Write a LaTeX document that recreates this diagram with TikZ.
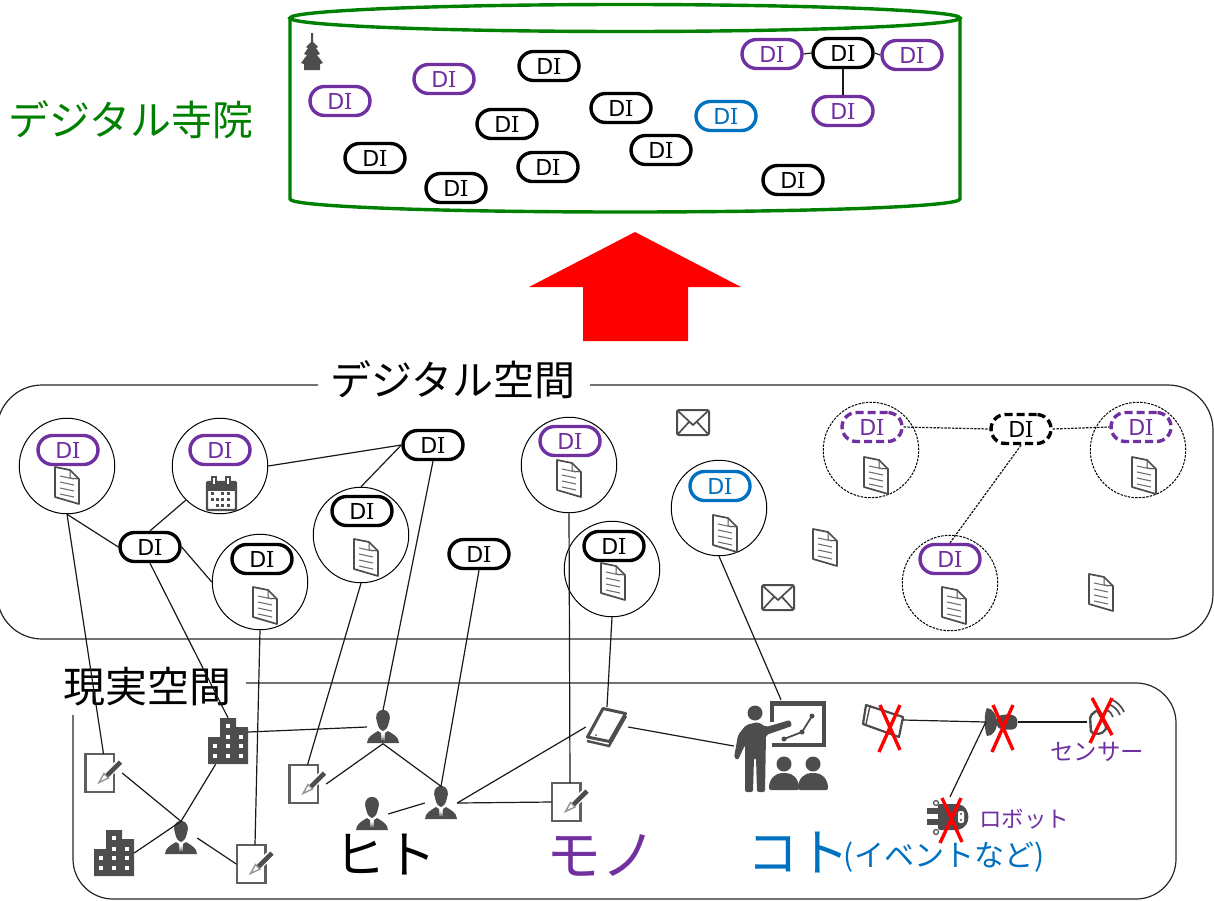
\documentclass[tikz,border=0pt]{standalone}
\usepackage{fontspec}
\setmainfont{Noto Sans CJK JP}
\newfontfamily\dsans{DejaVu Sans}
\newfontfamily\dserif{DejaVu Serif}
\usetikzlibrary{calc}
\definecolor{dipurple}{HTML}{7030A0}
\definecolor{diblue}{HTML}{0070C0}
\definecolor{digreen}{HTML}{008000}
\definecolor{icongrey}{HTML}{4D4D4D}
\newcommand{\fs}[1]{\fontsize{#1}{#1}\selectfont}
\newcommand{\ditext}{{\fs{22}\dsans D\kern-0.5pt\dserif I}}
\tikzset{
  x=1pt,y=-1pt,
  dipill/.style={draw=black,fill=white,line width=3.4pt,rounded corners=14.5pt,minimum width=60pt,minimum height=29pt,inner sep=0pt,text=black},
  dipurp/.style={dipill,draw=dipurple,text=dipurple},
  diblu/.style={dipill,draw=diblue,text=diblue},
  didash/.style={dash pattern=on 8pt off 4pt},
  ring/.style={draw=black,circle,minimum size=95.5pt,inner sep=0pt,line width=1pt},
  dashring/.style={ring,dash pattern=on 2.5pt off 1.2pt},
  link/.style={draw=black!90,line width=1.2pt},
  dashlink/.style={link,dash pattern=on 2.5pt off 1.2pt},
  iconbox/.style={inner sep=0pt,minimum width=#1},
  iconbox/.default=32pt,
  xmark/.style={draw=red,line width=3.4pt},
  lbl/.style={inner sep=0pt,text=black},
  doc/.pic={
    \draw[icongrey,line width=1.7pt,line join=round,fill=white] (-12,-18) -- (3,-15) -- (12,-6) -- (12,19) -- (-12,12) -- cycle;
    \draw[icongrey,line width=1pt] (3,-15) -- (3,-7) -- (12,-6);
    \foreach \yy in {-8,-2,4,10}{\draw[icongrey!80,line width=1.1pt] (-7,\yy-1) -- (7,\yy+2);}
  },
  mailicon/.pic={
    \draw[icongrey,line width=2pt,rounded corners=2pt,fill=white] (-16,-12) rectangle (16,13);
    \draw[icongrey,line width=1.7pt] (-15,-11) -- (0,3) -- (15,-11) (-15,12) -- (-4,0) (15,12) -- (4,0);
  },
  person/.pic={
    \fill[icongrey] (0,-17) .. controls (7,-17) and (8,-10) .. (6,-5) .. controls (5,0) and (3,3) .. (0,4) .. controls (-3,3) and (-5,0) .. (-6,-5) .. controls (-8,-10) and (-7,-17) .. (0,-17) -- cycle;
    \fill[icongrey] (-2,6) -- (-1,16) -- (-16,16) .. controls (-16,10) and (-10,7) .. (-5,4) -- cycle;
    \fill[icongrey] (2,6) -- (1,16) -- (16,16) .. controls (16,10) and (10,7) .. (5,4) -- cycle;
    \fill[icongrey] (0,8) -- (1.2,16) -- (-1.2,16) -- cycle;
  },
  buildingicon/.pic={
    \fill[icongrey] (-20,23) -- (-20,-4) -- (-8,-4) -- (-8,-23) -- (8,-23) -- (8,-14) -- (20,-14) -- (20,23) -- cycle;
    \foreach \xx/\yy in {0/-15,0/-4,13/-4,-13/5,0/5,13/5,-13/15,0/15,13/15}{\fill[white] (\xx-2,\yy-2) rectangle (\xx+2,\yy+2);}
  },
  memo/.pic={
    \draw[icongrey!90,line width=2.2pt,fill=white] (-18,-19) rectangle (10.5,19);
    \draw[white,line width=8pt] (-3,8) -- (16,-10);
    \draw[icongrey,line width=4.6pt] (3,3) -- (17,-11);
    \draw[icongrey!60,fill=white,line width=1.4pt] (0.5,0.5) -- (5,5) -- (-4.5,9.5) -- cycle;
  }
}
\begin{document}
\begin{tikzpicture}
\useasboundingbox (0,0) rectangle (1214,900);
% digital temple
\draw[digreen,line width=3.4pt] (625,18) ellipse [x radius=335pt,y radius=13.5pt];
\draw[digreen,line width=3.4pt] (290,18) -- (290,199) .. controls (290,206.7) and (441,212) .. (625,212) .. controls (809,212) and (960,206.7) .. (960,199) -- (960,18);
\node[lbl,text=digreen] (temple) at (131,120) {\fs{41}デジタル寺院};
\fill[icongrey] (311,33) -- (313,33) -- (313,42) -- (318,47) -- (316,48) -- (320,54) -- (317,55) -- (323,63) -- (320,64) -- (320,70) -- (304,70) -- (304,64) -- (301,63) -- (307,55) -- (304,54) -- (308,48) -- (306,47) -- (311,42) -- cycle;
\foreach \nm/\px/\py/\st in {t1/340/101/dipurp,t2/444/79/dipurp,t3/549/66/dipill,t4/621/108/dipill,t5/507/124/dipill,t6/375/158/dipill,t7/548/167/dipill,t8/456/188/dipill,t9/661/150/dipill,t10/793/180/dipill,t11/726/116/diblu,e1/772/54/dipurp,e2/843/53/dipill,e3/912/55/dipurp,e4/843/111/dipurp}{
  \node[\st] (\nm) at (\px,\py) {\ditext};
}
\draw[link] (e1.east) -- (e2.west);
\draw[link] (e2.east) -- (e3.west);
\draw[link] (e2.south) -- (e4.north);
% big arrow
\fill[red] (635,232) -- (741,287) -- (688,287) -- (688,341) -- (583,341) -- (583,287) -- (529,287) -- cycle;
% digital space
\draw[black!85,line width=1.2pt,rounded corners=45pt] (318,385) -- (-3,385) -- (-3,639) -- (1213,639) -- (1213,385) -- (590,385);
\node[lbl] (digi) at (453,380) {\fs{41}デジタル空間};
% real space
\draw[black!85,line width=1.2pt,rounded corners=40pt] (73,715) -- (73,899) -- (1176,899) -- (1176,683) -- (246,683);
\node[lbl] (real) at (147,687) {\fs{42}現実空間};
% circles
\foreach \nm/\px/\py in {c1/67/466,c2/220/466,c3/361/535,c4/260/582,c5/569/465,c6/612/569,c7/719/508}{
  \node[ring] (\nm) at (\px,\py) {};
}
\foreach \nm/\px/\py in {c8/871/450,c9/1138/450,c10/950/583}{
  \node[dashring] (\nm) at (\px,\py) {};
}
% DI pills
\foreach \nm/\px/\py/\st in {a1/68/450/dipurp,a2/220/450/dipurp,a3/362/511/dipill,a4/262/559/dipill,a5/570/441/dipurp,a6/614/546/dipill,a7/720/486/diblu,d1/150/547/dipill,d2/433/445/dipill,d3/479/554/dipill,g/950/559/dipurp}{
  \node[\st] (\nm) at (\px,\py) {\ditext};
}
\node[dipurp,didash] (f1) at (872,427) {\ditext};
\node[dipill,didash] (f2) at (1021,429) {\ditext};
\node[dipurp,didash] (f3) at (1141,427) {\ditext};
% docs and mail
\foreach \px/\py in {67/485,366/557,265/605,569/478,613/581,725/533,876/475,1144/475,954/605,825/547,1101/592}{
  \pic at (\px,\py) {doc};
}
\pic at (693,422) {mailicon};
\pic at (778,597) {mailicon};
% calendar
\draw[icongrey,line width=2.2pt,fill=white,rounded corners=1pt] (207,482) rectangle (236,510);
\fill[icongrey] (207,481) rectangle (236,491);
\foreach \xx in {214,228}{\fill[icongrey] (\xx-3,476) rectangle (\xx+3,486);\fill[white] (\xx-1,478) rectangle (\xx+1,484);}
\foreach \xx/\yy in {212/493,222/493,228/493,212/499,217/499,222/499,228/499,217/505,222/505,228/505}{\fill[icongrey] (\xx-1.5,\yy-1.5) rectangle (\xx+1.5,\yy+1.5);}
% real-space icons
\node[iconbox=40pt,minimum height=46pt] (b1) at (228,741) {};
\pic at (b1) {buildingicon};
\node[iconbox=40pt,minimum height=46pt] (b2) at (114,853) {};
\pic at (b2) {buildingicon};
\foreach \nm/\px/\py in {p1/383/727,p2/441/803,p3/372/814,p4/181/838}{
  \node[iconbox,minimum height=33pt] (\nm) at (\px,\py) {};
  \pic at (\nm) {person};
}
\foreach \nm/\px/\py in {m1/103.5/773,m2/307.5/784,m3/255/864,m4/570/802}{
  \node[iconbox=37pt,minimum height=38pt] (\nm) at (\px,\py) {};
  \pic at (\nm) {memo};
}
% phone
\node[iconbox=42pt,minimum height=40pt] (ph) at (607,727) {};
\draw[icongrey,line width=3pt,line join=round] (603,708.5) -- (625.5,713.5) -- (609.5,741.5) -- (587.5,737) -- cycle;
\draw[icongrey,line width=2.4pt] (587,741) -- (609,746) -- (626,716);
\fill[icongrey] (596,735) circle [radius=1pt];
% presenter
\node[iconbox=94pt,minimum height=92pt] (pr) at (781,746) {};
\draw[icongrey,line width=4.5pt] (772,722) -- (772,703.5) -- (824,703.5) -- (824,745) -- (772,745);
\draw[icongrey,line width=1.8pt] (784,739) -- (802,732) -- (812,716);
\foreach \xx/\yy in {784/739,802/732,812/716}{\fill[icongrey] (\xx,\yy) circle [radius=2.5pt];}
\fill[icongrey] (755,713) circle [radius=7.5pt];
\fill[icongrey,rounded corners=2pt] (746,725) -- (758,722) -- (766,727) -- (790,720) -- (792,726) -- (766,735) -- (765,792) -- (757,792) -- (756,758) -- (754,758) -- (753,792) -- (745,792) -- (745,745) -- (738,760) -- (734,758) -- (738,735) -- cycle;
\foreach \xx in {784,813}{
  \fill[icongrey] (\xx,764) circle [radius=7.5pt];
  \fill[icongrey,rounded corners=2pt] (\xx-15,790) .. controls (\xx-15,778) and (\xx-8,773) .. (\xx,773) .. controls (\xx+8,773) and (\xx+15,778) .. (\xx+15,790) -- cycle;
}
% small crossed icons
\node[iconbox=40pt,minimum height=36pt] (s1) at (883,720) {};
\draw[icongrey,line width=2.2pt,line join=round] (866,705) -- (903,717) -- (899,737) -- (863,724) -- cycle;
\draw[icongrey,line width=1.4pt] (870,706) -- (866,724);
\node[iconbox,minimum height=32pt] (hub) at (1002,722) {};
\fill[icongrey] (987,708) .. controls (993,708) and (996,716) .. (997,720) -- (997,725) .. controls (996,730) and (993,736) .. (987,736) .. controls (984,730) and (984,712) .. (987,708) -- cycle;
\fill[icongrey,rounded corners=3pt] (997,716) -- (1008,714) -- (1016,716) -- (1018,722) -- (1016,729) -- (1008,730) -- (997,728) -- cycle;
\node[iconbox,minimum height=30pt] (sens) at (1103,722) {};
\draw[icongrey,line width=2.4pt,line join=round,rounded corners=2pt] (1090,716) -- (1097,710) -- (1107,728) -- (1101,734) -- (1091,733) -- cycle;
\draw[icongrey,line width=1.7pt] (1106,710) .. controls (1110,711) and (1112,714) .. (1113,717) (1108,704) .. controls (1114,706) and (1118,710) .. (1120,715) (1110,699) .. controls (1117,701) and (1122,707) .. (1124,712);
\node[iconbox=44pt,minimum height=42pt] (robot) at (950,818) {};
\fill[icongrey,rounded corners=2pt] (938,804) -- (957,804) .. controls (970,806) and (973,826) .. (957,830) -- (938,830) -- cycle;
\fill[icongrey] (927,808) rectangle (938,814);
\fill[icongrey] (927,819) rectangle (938,825);
\draw[icongrey,line width=1.2pt] (936,803) circle [radius=2.5pt] (936,832) circle [radius=2.5pt];
\fill[white,rounded corners=2pt] (958,811) rectangle (964,823);
\fill[icongrey] (961,814) circle [radius=1.2pt] (961,820) circle [radius=1.2pt];
% labels
\node[lbl,text=dipurple] (senlbl) at (1097,752) {\fs{23.5}センサー};
\node[lbl,text=dipurple] (roblbl) at (1024,819) {\fs{22.5}ロボット};
\node[lbl] (hito) at (385,855) {\fs{51}ヒト};
\node[lbl,text=dipurple] (mono) at (601,855) {\fs{55}モノ};
\node[lbl,text=diblue] (koto) at (798,853) {\fs{51}コト};
\node[lbl,text=diblue] (ev) at (944,857) {\fs{30}(イベントなど)};
% connectors
\draw[link] (c1.south) -- (d1.west);
\draw[link] (c1.south) -- (m1.north);
\draw[link] (d1.north) -- (c2.225);
\draw[link] (d1.east) -- (c4.west);
\draw[link] (d1.south) -- (b1.north);
\draw[link] (c2.east) -- (d2.west);
\draw[link] (d2.west) -- (c3.north);
\draw[link] (d2.south) -- (p1.north);
\draw[link] (d3.south) -- (p2.north);
\draw[link] (c3.south) -- (m2.north);
\draw[link] (c4.south) -- (m3.north);
\draw[link] (c5.south) -- (m4.north);
\draw[link] (c6.south) -- (ph.north);
\draw[link] (c7.south) -- (pr.north);
\draw[dashlink] (f1.east) -- (f2.west);
\draw[dashlink] (f2.east) -- (f3.west);
\draw[dashlink] (f2.south) -- (g.north);
\draw[link] (b1.24) -- (p1.west);
\draw[link] (b1.242) -- (p4.north);
\draw[link] (b2.east) -- (p4.north);
\draw[link] (m1.east) -- (p4.north);
\draw[link] (p4.east) -- (m3.west);
\draw[link] (p1.south) -- (m2.east);
\draw[link] (p1.south) -- (p2.north);
\draw[link] (p3.east) -- (p2.west);
\draw[link] (p2.east) -- (ph.west);
\draw[link] (p2.east) -- (m4.west);
\draw[link] (ph.east) -- (pr.west);
\draw[link] (s1.east) -- (hub.west);
\draw[link] (hub.east) -- (sens.west);
\draw[link] (hub.west) -- (robot.north);
% red crosses
\draw[xmark] (879,752) -- (900,705) (880,705) -- (900,750);
\draw[xmark] (992,752) -- (1013,705) (993,705) -- (1013,750);
\draw[xmark] (1090,743) -- (1112,698) (1092,698) -- (1112,735);
\draw[xmark] (940,843) -- (961,798) (942,798) -- (962,842);
\end{tikzpicture}
\end{document}
